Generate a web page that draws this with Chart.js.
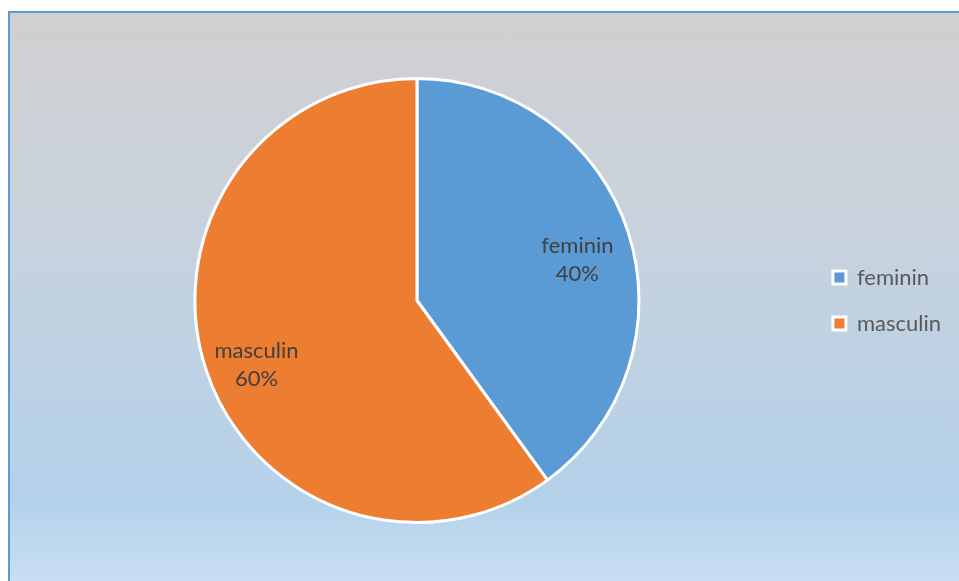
<!DOCTYPE html>
<html>
<head>
<meta charset="utf-8">
<script src="https://cdn.jsdelivr.net/npm/chart.js@4"></script>
<style>
  html, body { margin: 0; padding: 0; background: #ffffff; }
  .panel {
    position: absolute;
    left: 8px;
    top: 11px;
    width: 951px;
    height: 570px;
    border-left: 2px solid #5b9bd5;
    border-top: 2px solid #5b9bd5;
    background: linear-gradient(to bottom, #d0cfd0 0%, #c9d2dc 35%, #b4d1ea 85%, #c9def2 100%);
  }
  .panel canvas { display: block; }
</style>
</head>
<body>
<div class="panel">
  <canvas id="sexPie" width="951" height="570"></canvas>
</div>
<script>
// categories and values
const categories = ["feminin", "masculin"];
const shares = [40, 60];
const sliceColors = ["#5b9bd5", "#ed7d31"];

const labelFont = "22px Lato, sans-serif";

// slice labels drawn inside the pie
const sliceLabelPlugin = {
  id: "sliceLabels",
  afterDatasetsDraw(chart) {
    const ctx = chart.ctx;
    const meta = chart.getDatasetMeta(0);
    ctx.save();
    ctx.fillStyle = "#404040";
    ctx.font = labelFont;
    ctx.textAlign = "center";
    ctx.textBaseline = "middle";
    meta.data.forEach((arc, i) => {
      const p = arc.getProps(["x", "y", "startAngle", "endAngle", "outerRadius"], true);
      const mid = (p.startAngle + p.endAngle) / 2;
      const r = p.outerRadius * 0.76;
      const x = p.x + Math.cos(mid) * r;
      const y = p.y + Math.sin(mid) * r + 12;
      ctx.fillText(categories[i], x, y - 14);
      ctx.fillText(shares[i] + "%", x, y + 14);
    });
    ctx.restore();
  }
};

new Chart(document.getElementById("sexPie"), {
  type: "pie",
  data: {
    labels: categories,
    datasets: [{
      data: shares,
      backgroundColor: sliceColors,
      borderColor: "#ffffff",
      borderWidth: 3
    }]
  },
  options: {
    responsive: false,
    animation: false,
    layout: {
      padding: { top: 64, bottom: 59, left: 15, right: 10 }
    },
    plugins: {
      tooltip: { enabled: false },
      legend: {
        position: "right",
        labels: {
          color: "#595959",
          boxWidth: 13,
          boxHeight: 13,
          padding: 24,
          font: { size: 22, family: "Lato, sans-serif" }
        }
      }
    }
  },
  plugins: [sliceLabelPlugin]
});
</script>
</body>
</html>
